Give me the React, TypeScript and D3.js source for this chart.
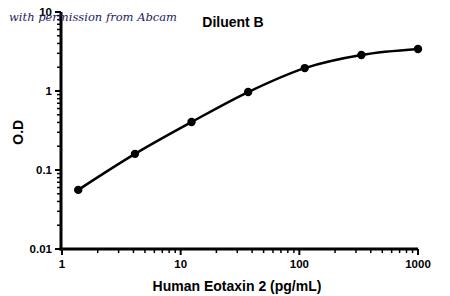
import React from "react";
import * as d3 from "d3";

const concentrations = [1.37, 4.12, 12.35, 37.04, 111.1, 333.3, 1000];
const odValues = [0.056, 0.16, 0.405, 0.97, 1.95, 2.86, 3.4];
const xTicks = [1, 10, 100, 1000];
const yTicks = [0.01, 0.1, 1, 10];
const yTickLabels = ["0.01", "0.1", "1", "10"];
const title = "Diluent B";
const xLabel = "Human Eotaxin 2 (pg/mL)";
const yLabel = "O.D";
const watermark = "with permission from Abcam";

export default function App() {
  const W = 450, H = 296;
  const x = d3.scaleLog().domain([1, 1000]).range([62, 418]);
  const y = d3.scaleLog().domain([0.01, 10]).range([249, 12]);
  const font = "'Liberation Sans', Arial, sans-serif";

  const minorX: number[] = [];
  for (let d = 1; d < 1000; d *= 10) for (let k = 2; k <= 9; k++) minorX.push(d * k);
  const minorY: number[] = [];
  for (let d = 0.01; d < 9; d *= 10) for (let k = 2; k <= 9; k++) minorY.push(d * k);

  const pts = concentrations.map((c, i) => [x(c), y(odValues[i])] as [number, number]);
  const line = d3.line().curve(d3.curveMonotoneX)(pts) || "";

  return (
    <svg width={W} height={H} style={{ position: "absolute", left: 0, top: 0, background: "#fff" }}>
      <rect x={0} y={0} width={W} height={H} fill="#fff" />
      <line x1={61} y1={y(10)} x2={61} y2={250.5} stroke="#000" strokeWidth={3} />
      <line x1={59.5} y1={249} x2={x(1000)} y2={249} stroke="#000" strokeWidth={3} />
      {minorY.map((v, i) => (
        <line key={"my" + i} x1={57} x2={61} y1={y(v)} y2={y(v)} stroke="#000" strokeWidth={1.5} />
      ))}
      {yTicks.map((v, i) => (
        <g key={"y" + i}>
          <line x1={55} x2={61} y1={y(v)} y2={y(v)} stroke="#000" strokeWidth={2} />
          <text x={52} y={y(v)} dy="0.35em" textAnchor="end" fontFamily={font} fontWeight="bold" fontSize={11.5} fill="#000">
            {yTickLabels[i]}
          </text>
        </g>
      ))}
      {minorX.map((v, i) => (
        <line key={"mx" + i} x1={x(v)} x2={x(v)} y1={249} y2={253} stroke="#000" strokeWidth={1.5} />
      ))}
      {xTicks.map((v, i) => (
        <g key={"x" + i}>
          <line x1={x(v)} x2={x(v)} y1={249} y2={255} stroke="#000" strokeWidth={2} />
          <text x={x(v)} y={268} textAnchor="middle" fontFamily={font} fontWeight="bold" fontSize={11.5} fill="#000">
            {String(v)}
          </text>
        </g>
      ))}
      <path d={line} fill="none" stroke="#000" strokeWidth={2.5} />
      {pts.map((p, i) => (
        <circle key={"p" + i} cx={p[0]} cy={p[1]} r={4.2} fill="#000" />
      ))}
      <text x={233} y={27} textAnchor="middle" fontFamily={font} fontWeight="bold" fontSize={14} fill="#000">
        {title}
      </text>
      <text x={237} y={291} textAnchor="middle" fontFamily={font} fontWeight="bold" fontSize={14} fill="#000">
        {xLabel}
      </text>
      <text transform={`translate(23,${y(0.3)}) rotate(-90)`} textAnchor="middle" fontFamily={font} fontWeight="bold" fontSize={14} fill="#000">
        {yLabel}
      </text>
      <text x={9} y={21} fontFamily="'DejaVu Serif', serif" fontStyle="italic" fontSize={11.5} fill="#1c1c5c">
        {watermark}
      </text>
    </svg>
  );
}
